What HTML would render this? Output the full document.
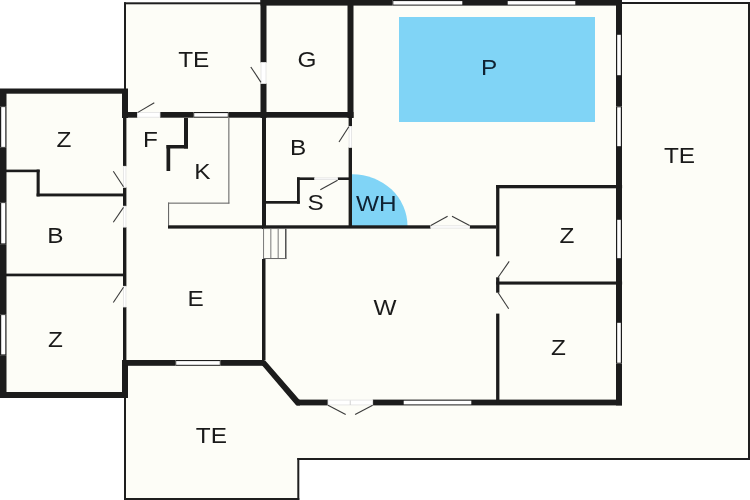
<!DOCTYPE html>
<html><head><meta charset="utf-8"><style>
html,body{margin:0;padding:0;background:#fff;width:750px;height:500px;overflow:hidden}
svg{display:block;will-change:transform}
text{font-family:"Liberation Sans",sans-serif;font-size:21.0px}
</style></head><body>
<svg width="750" height="500" viewBox="0 0 750 500">
<polygon points="124,3 262,3 262,0 622,0 622,3 749,3 749,459 298,459 298,499 125,499 125,397 0,397 0,89 124,89" fill="#fdfdf7"/>
<rect x="399.00" y="17.00" width="196.00" height="105.00" fill="#80d4f6" />
<clipPath id="wh"><rect x="351" y="150" width="80" height="76"/></clipPath>
<ellipse cx="352.5" cy="226" rx="55" ry="51.8" fill="#80d4f6" clip-path="url(#wh)"/>
<rect x="124.00" y="2.30" width="138.00" height="2.00" fill="#1e1e1e" />
<rect x="124.00" y="2.30" width="2.00" height="87.00" fill="#1e1e1e" />
<rect x="622.00" y="2.00" width="128.00" height="2.00" fill="#1e1e1e" />
<rect x="748.00" y="2.00" width="2.00" height="458.00" fill="#1e1e1e" />
<rect x="297.30" y="458.00" width="452.70" height="2.00" fill="#1e1e1e" />
<rect x="124.00" y="397.00" width="2.00" height="103.00" fill="#1e1e1e" />
<rect x="124.00" y="498.00" width="175.30" height="2.00" fill="#1e1e1e" />
<rect x="297.30" y="458.00" width="2.00" height="42.00" fill="#1e1e1e" />
<rect x="260.50" y="0.00" width="132.10" height="5.60" fill="#1c1c1c" />
<rect x="463.00" y="0.00" width="44.00" height="5.60" fill="#1c1c1c" />
<rect x="576.00" y="0.00" width="46.00" height="5.60" fill="#1c1c1c" />
<rect x="392.60" y="0.00" width="70.40" height="5.60" fill="#1c1c1c" />
<rect x="393.30" y="1.10" width="69.00" height="3.50" fill="#ffffff" />
<rect x="507.00" y="0.00" width="69.00" height="5.60" fill="#1c1c1c" />
<rect x="507.70" y="1.10" width="67.60" height="3.50" fill="#ffffff" />
<rect x="260.50" y="0.00" width="6.00" height="62.60" fill="#1c1c1c" />
<rect x="260.50" y="83.40" width="6.00" height="34.60" fill="#1c1c1c" />
<rect x="261.0" y="62.6" width="5" height="20.800000000000004" fill="#fff" stroke="#e2e2e2" stroke-width="0.8"/>
<rect x="347.50" y="0.00" width="6.00" height="118.00" fill="#1c1c1c" />
<rect x="122.00" y="112.00" width="15.50" height="5.70" fill="#1c1c1c" />
<rect x="160.00" y="112.00" width="33.50" height="5.70" fill="#1c1c1c" />
<rect x="228.50" y="112.00" width="125.00" height="5.70" fill="#1c1c1c" />
<rect x="137.5" y="112.5" width="22.5" height="4.7" fill="#fff" stroke="#e2e2e2" stroke-width="0.8"/>
<rect x="193.50" y="112.00" width="35.00" height="5.70" fill="#1c1c1c" />
<rect x="194.20" y="113.10" width="33.60" height="3.60" fill="#ffffff" />
<rect x="0.00" y="88.50" width="128.00" height="5.20" fill="#1c1c1c" />
<rect x="122.00" y="89.00" width="6.00" height="29.00" fill="#1c1c1c" />
<rect x="0.00" y="89.00" width="6.50" height="17.30" fill="#1c1c1c" />
<rect x="0.00" y="147.70" width="6.50" height="54.60" fill="#1c1c1c" />
<rect x="0.00" y="244.20" width="6.50" height="70.10" fill="#1c1c1c" />
<rect x="0.00" y="355.20" width="6.50" height="42.80" fill="#1c1c1c" />
<rect x="0.00" y="106.30" width="6.50" height="41.40" fill="#1c1c1c" />
<rect x="1.20" y="107.10" width="4.10" height="39.80" fill="#ffffff" />
<rect x="0.00" y="202.30" width="6.50" height="41.90" fill="#1c1c1c" />
<rect x="1.20" y="203.10" width="4.10" height="40.30" fill="#ffffff" />
<rect x="0.00" y="314.30" width="6.50" height="40.90" fill="#1c1c1c" />
<rect x="1.20" y="315.10" width="4.10" height="39.30" fill="#ffffff" />
<rect x="0.00" y="392.00" width="128.00" height="6.00" fill="#1c1c1c" />
<rect x="122.00" y="360.00" width="6.00" height="38.00" fill="#1c1c1c" />
<rect x="123.00" y="118.00" width="3.40" height="48.30" fill="#1c1c1c" />
<rect x="123.00" y="187.30" width="3.40" height="18.90" fill="#1c1c1c" />
<rect x="123.00" y="227.10" width="3.40" height="59.20" fill="#1c1c1c" />
<rect x="123.00" y="307.00" width="3.40" height="53.00" fill="#1c1c1c" />
<rect x="123.5" y="166.3" width="2.4" height="21.0" fill="#fff" stroke="#e2e2e2" stroke-width="0.8"/>
<rect x="123.5" y="206.2" width="2.4" height="20.900000000000006" fill="#fff" stroke="#e2e2e2" stroke-width="0.8"/>
<rect x="123.5" y="286.3" width="2.4" height="20.69999999999999" fill="#fff" stroke="#e2e2e2" stroke-width="0.8"/>
<rect x="6.00" y="169.60" width="33.60" height="2.60" fill="#1c1c1c" />
<rect x="36.60" y="169.60" width="3.10" height="26.80" fill="#1c1c1c" />
<rect x="36.60" y="193.50" width="86.50" height="2.90" fill="#1c1c1c" />
<rect x="6.00" y="273.60" width="117.00" height="2.70" fill="#1c1c1c" />
<rect x="184.00" y="118.00" width="4.00" height="30.50" fill="#1c1c1c" />
<rect x="166.50" y="145.00" width="21.50" height="3.50" fill="#1c1c1c" />
<rect x="166.50" y="145.00" width="3.70" height="26.00" fill="#1c1c1c" />
<rect x="228.30" y="118.00" width="1.10" height="85.50" fill="#6a6a6a" />
<rect x="168.00" y="202.60" width="61.40" height="1.10" fill="#6a6a6a" />
<rect x="168.00" y="202.60" width="1.10" height="23.00" fill="#6a6a6a" />
<rect x="262.00" y="118.00" width="4.00" height="111.00" fill="#1c1c1c" />
<rect x="348.60" y="118.00" width="3.40" height="8.40" fill="#1c1c1c" />
<rect x="348.60" y="147.40" width="3.40" height="80.60" fill="#1c1c1c" />
<rect x="349.1" y="126.4" width="2.4" height="21.0" fill="#fff" stroke="#e2e2e2" stroke-width="0.8"/>
<rect x="297.00" y="177.40" width="17.70" height="2.60" fill="#1c1c1c" />
<rect x="337.60" y="177.40" width="11.50" height="2.60" fill="#1c1c1c" />
<rect x="297.00" y="177.40" width="2.80" height="26.30" fill="#1c1c1c" />
<rect x="265.00" y="201.00" width="34.80" height="2.70" fill="#1c1c1c" />
<rect x="314.7" y="177.9" width="22.900000000000034" height="1.6" fill="#fff" stroke="#e2e2e2" stroke-width="0.8"/>
<rect x="168.00" y="225.30" width="262.80" height="3.30" fill="#1c1c1c" />
<rect x="469.60" y="225.30" width="26.40" height="3.30" fill="#1c1c1c" />
<rect x="430.8" y="225.8" width="38.80000000000001" height="2.3" fill="#fff" stroke="#e2e2e2" stroke-width="0.8"/>
<rect x="263.6" y="228.6" width="22.2" height="30" fill="none" stroke="#6a6a6a" stroke-width="0.9"/>
<rect x="285.00" y="228.60" width="1.40" height="30.40" fill="#555" />
<rect x="270.40" y="228.60" width="0.90" height="30.00" fill="#6a6a6a" />
<rect x="277.70" y="228.60" width="0.90" height="30.00" fill="#6a6a6a" />
<rect x="263.20" y="258.00" width="23.00" height="1.00" fill="#6a6a6a" />
<rect x="262.00" y="259.00" width="3.50" height="101.00" fill="#1c1c1c" />
<rect x="122.00" y="360.00" width="53.50" height="5.80" fill="#1c1c1c" />
<rect x="220.50" y="360.00" width="43.50" height="5.80" fill="#1c1c1c" />
<rect x="175.50" y="360.00" width="45.00" height="5.80" fill="#1c1c1c" />
<rect x="176.20" y="361.10" width="43.60" height="3.70" fill="#ffffff" />
<polygon points="262,360.2 265,360.2 299.4,399.7 300,399.7 300,405.4 296.3,405.4 262.4,365.7 262,365.7" fill="#1c1c1c"/>
<rect x="297.00" y="399.60" width="31.00" height="5.80" fill="#1c1c1c" />
<rect x="372.70" y="399.60" width="30.30" height="5.80" fill="#1c1c1c" />
<rect x="472.00" y="399.60" width="150.00" height="5.80" fill="#1c1c1c" />
<rect x="403.00" y="399.60" width="69.00" height="5.80" fill="#1c1c1c" />
<rect x="403.70" y="400.70" width="67.60" height="3.70" fill="#ffffff" />
<rect x="328" y="400.1" width="44.69999999999999" height="4.8" fill="#fff" stroke="#e2e2e2" stroke-width="0.8"/>
<rect x="349.80" y="400.50" width="0.80" height="4.50" fill="#c8c8c8" />
<rect x="496.10" y="185.00" width="3.30" height="71.30" fill="#1c1c1c" />
<rect x="496.10" y="277.30" width="3.30" height="15.40" fill="#1c1c1c" />
<rect x="496.10" y="313.60" width="3.30" height="91.00" fill="#1c1c1c" />
<rect x="496.10" y="185.00" width="126.00" height="3.30" fill="#1c1c1c" />
<rect x="496.10" y="281.50" width="126.00" height="3.10" fill="#1c1c1c" />
<rect x="616.00" y="0.00" width="6.00" height="34.00" fill="#1c1c1c" />
<rect x="616.00" y="76.00" width="6.00" height="30.50" fill="#1c1c1c" />
<rect x="616.00" y="147.00" width="6.00" height="72.00" fill="#1c1c1c" />
<rect x="616.00" y="259.00" width="6.00" height="63.00" fill="#1c1c1c" />
<rect x="616.00" y="363.50" width="6.00" height="41.90" fill="#1c1c1c" />
<rect x="616.00" y="34.00" width="6.00" height="42.00" fill="#1c1c1c" />
<rect x="617.20" y="34.80" width="3.60" height="40.40" fill="#ffffff" />
<rect x="616.00" y="106.50" width="6.00" height="40.50" fill="#1c1c1c" />
<rect x="617.20" y="107.30" width="3.60" height="38.90" fill="#ffffff" />
<rect x="616.00" y="219.00" width="6.00" height="40.00" fill="#1c1c1c" />
<rect x="617.20" y="219.80" width="3.60" height="38.40" fill="#ffffff" />
<rect x="616.00" y="322.00" width="6.00" height="41.50" fill="#1c1c1c" />
<rect x="617.20" y="322.80" width="3.60" height="39.90" fill="#ffffff" />
<line x1="250.8" y1="67" x2="261" y2="82.4" stroke="#3a3a3a" stroke-width="1.1"/>
<line x1="137.5" y1="112.6" x2="154.3" y2="102.7" stroke="#3a3a3a" stroke-width="1.1"/>
<line x1="113.3" y1="171.2" x2="123.5" y2="186.8" stroke="#3a3a3a" stroke-width="1.1"/>
<line x1="113.3" y1="222.2" x2="123.5" y2="207.4" stroke="#3a3a3a" stroke-width="1.1"/>
<line x1="113.3" y1="302.5" x2="123.5" y2="287.2" stroke="#3a3a3a" stroke-width="1.1"/>
<line x1="339" y1="142" x2="348.8" y2="126.8" stroke="#3a3a3a" stroke-width="1.1"/>
<line x1="320.3" y1="189.7" x2="337.6" y2="180.2" stroke="#3a3a3a" stroke-width="1.1"/>
<line x1="430.8" y1="225.6" x2="447.6" y2="216.2" stroke="#3a3a3a" stroke-width="1.1"/>
<line x1="452" y1="216.2" x2="469.6" y2="225.6" stroke="#3a3a3a" stroke-width="1.1"/>
<line x1="498" y1="277.5" x2="509.2" y2="261.4" stroke="#3a3a3a" stroke-width="1.1"/>
<line x1="498" y1="292.5" x2="508.7" y2="308.7" stroke="#3a3a3a" stroke-width="1.1"/>
<line x1="328" y1="405.2" x2="345.7" y2="414.6" stroke="#3a3a3a" stroke-width="1.1"/>
<line x1="372.7" y1="405.2" x2="355.1" y2="414.6" stroke="#3a3a3a" stroke-width="1.1"/>
<text transform="matrix(1.1600 0 0 1.0500 178.15 66.91)" fill="#1a1a1a">TE</text>
<text transform="matrix(1.1600 0 0 1.0500 297.45 66.71)" fill="#1a1a1a">G</text>
<text transform="matrix(1.1600 0 0 1.0500 480.88 74.86)" fill="#0f2233">P</text>
<text transform="matrix(1.1600 0 0 1.0500 663.95 162.96)" fill="#1a1a1a">TE</text>
<text transform="matrix(1.1600 0 0 1.0500 56.62 147.31)" fill="#1a1a1a">Z</text>
<text transform="matrix(1.1600 0 0 1.0500 143.03 147.11)" fill="#1a1a1a">F</text>
<text transform="matrix(1.1600 0 0 1.0500 194.25 179.11)" fill="#1a1a1a">K</text>
<text transform="matrix(1.1600 0 0 1.0500 290.03 155.11)" fill="#1a1a1a">B</text>
<text transform="matrix(1.1600 0 0 1.0500 307.40 210.41)" fill="#1a1a1a">S</text>
<text transform="matrix(1.1600 0 0 1.0500 356.08 210.81)" fill="#0f2233">WH</text>
<text transform="matrix(1.1600 0 0 1.0500 47.28 242.91)" fill="#1a1a1a">B</text>
<text transform="matrix(1.1600 0 0 1.0500 559.57 243.21)" fill="#1a1a1a">Z</text>
<text transform="matrix(1.1600 0 0 1.0500 187.61 306.21)" fill="#1a1a1a">E</text>
<text transform="matrix(1.1600 0 0 1.0500 373.39 314.96)" fill="#1a1a1a">W</text>
<text transform="matrix(1.1600 0 0 1.0500 48.07 347.26)" fill="#1a1a1a">Z</text>
<text transform="matrix(1.1600 0 0 1.0500 551.07 355.31)" fill="#1a1a1a">Z</text>
<text transform="matrix(1.1600 0 0 1.0500 195.85 442.86)" fill="#1a1a1a">TE</text>
</svg>
</body></html>
